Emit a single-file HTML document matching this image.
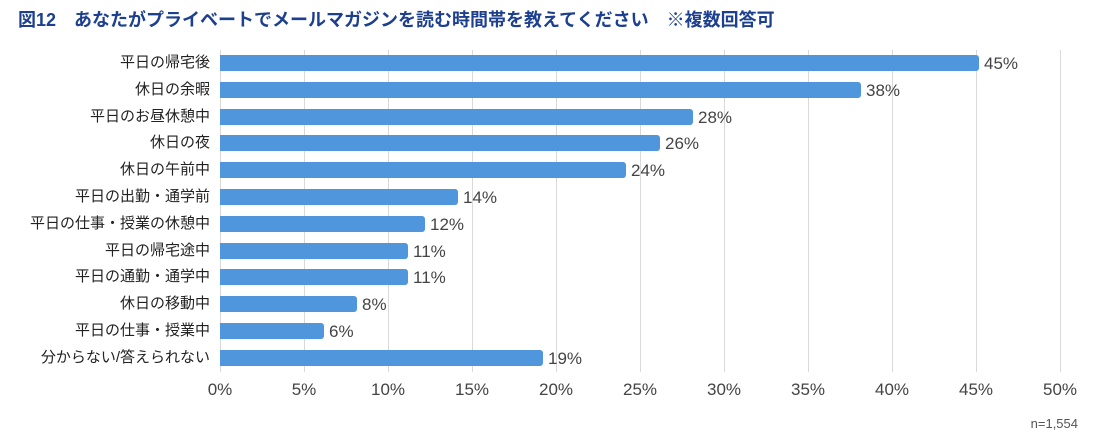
<!DOCTYPE html><html><head><meta charset="utf-8"><style>
body{margin:0;width:1096px;height:437px;background:#fff;font-family:"Liberation Sans","Noto Sans CJK JP",sans-serif;position:relative;overflow:hidden}
.t{position:absolute;left:18px;top:6px;font-size:18px;font-weight:bold;color:#1d3f8f;white-space:nowrap}
.g{position:absolute;top:50px;height:322px;width:1px;background:#d9d9d9}
.b{position:absolute;left:220px;height:16px;background:#4f96dc;border-radius:0 3px 3px 0}
.l{position:absolute;right:886px;font-size:15px;color:#222;white-space:nowrap;line-height:16px}
.v{position:absolute;font-size:17px;color:#444;line-height:16px}
.x{position:absolute;top:380px;font-size:17px;color:#444;width:60px;text-align:center}
.n{position:absolute;right:18px;top:416px;font-size:13px;color:#555}
</style></head><body>
<div class="t">図12　あなたがプライベートでメールマガジンを読む時間帯を教えてください　※複数回答可</div>
<div id="c"></div>
<div class="n">n=1,554</div>
<script>
var labs=["平日の帰宅後","休日の余暇","平日のお昼休憩中","休日の夜","休日の午前中","平日の出勤・通学前","平日の仕事・授業の休憩中","平日の帰宅途中","平日の通勤・通学中","休日の移動中","平日の仕事・授業中","分からない/答えられない"];
var ends=[979,861,693,660,626,458,425,408,408,357,324,543];
var vals=["45%","38%","28%","26%","24%","14%","12%","11%","11%","8%","6%","19%"];
var h="";
for(var i=0;i<=10;i++){var x=220+i*84;h+='<div class="g" style="left:'+x+'px"></div><div class="x" style="left:'+(x-30)+'px">'+(i*5)+'%</div>';}
for(var i=0;i<12;i++){var y=55+i*26.8;h+='<div class="b" style="top:'+y+'px;width:'+(ends[i]-220)+'px"></div><div class="l" style="top:'+y+'px">'+labs[i]+'</div><div class="v" style="top:'+(y+1)+'px;left:'+(ends[i]+5)+'px">'+vals[i]+'</div>';}
document.getElementById("c").innerHTML=h;
</script>
</body></html>
